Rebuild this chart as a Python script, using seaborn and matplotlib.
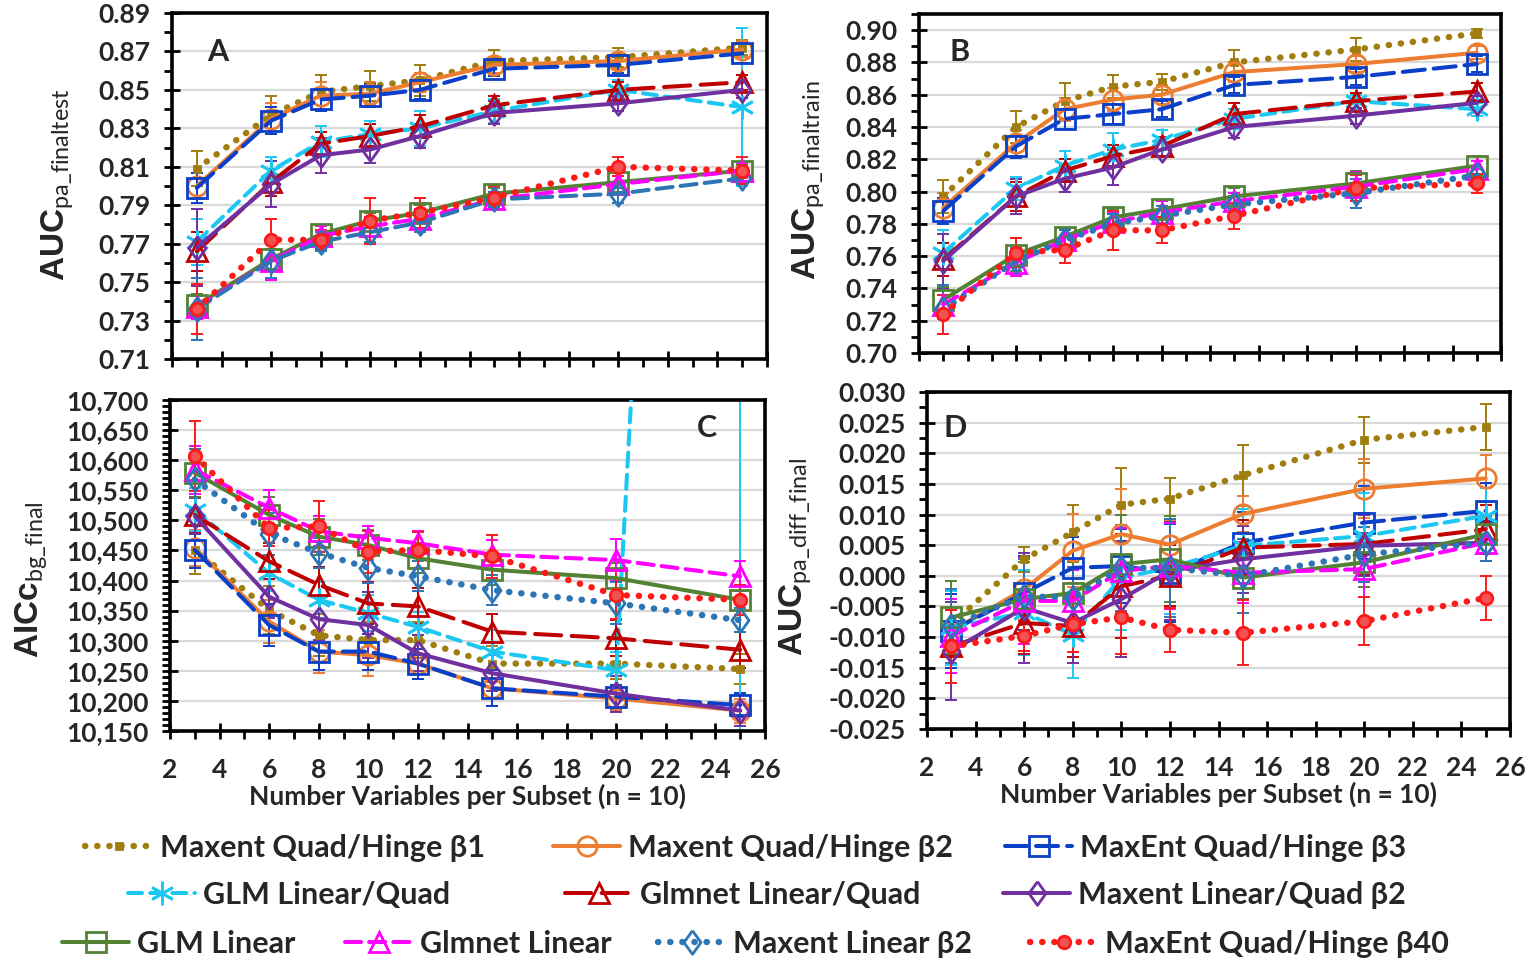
import numpy as np
import pandas as pd
import matplotlib
matplotlib.use("Agg")
import matplotlib.pyplot as plt
import seaborn as sns
from matplotlib.lines import Line2D
from matplotlib.ticker import MultipleLocator, FixedLocator, FuncFormatter

# ---------------------------------------------------------------- data
n_vars = [3, 6, 8, 10, 12, 15, 20, 25]

model_names = [
    "Maxent Quad/Hinge β1", "Maxent Quad/Hinge β2", "MaxEnt Quad/Hinge β3",
    "GLM Linear/Quad", "Glmnet Linear/Quad", "Maxent Linear/Quad β2",
    "GLM Linear", "Glmnet Linear", "Maxent Linear β2", "MaxEnt Quad/Hinge β40",
]

# AUC on the final test partition (mean, sd), one row per model
auc_test_mean = [
    [0.809, 0.837, 0.849, 0.852, 0.855, 0.865, 0.867, 0.872],
    [0.800, 0.835, 0.847, 0.848, 0.854, 0.863, 0.865, 0.871],
    [0.799, 0.834, 0.845, 0.847, 0.850, 0.861, 0.863, 0.869],
    [0.771, 0.808, 0.823, 0.827, 0.830, 0.839, 0.850, 0.841],
    [0.766, 0.802, 0.822, 0.826, 0.831, 0.842, 0.850, 0.854],
    [0.768, 0.801, 0.816, 0.819, 0.826, 0.838, 0.843, 0.850],
    [0.738, 0.762, 0.775, 0.782, 0.786, 0.796, 0.802, 0.808],
    [0.737, 0.761, 0.774, 0.779, 0.783, 0.793, 0.801, 0.808],
    [0.736, 0.761, 0.771, 0.776, 0.781, 0.793, 0.796, 0.804],
    [0.736, 0.772, 0.772, 0.782, 0.786, 0.794, 0.810, 0.808],
]
auc_test_sd = [
    [0.009, 0.010, 0.009, 0.008, 0.008, 0.006, 0.005, 0.004],
    [0.007, 0.008, 0.007, 0.006, 0.005, 0.004, 0.004, 0.004],
    [0.008, 0.007, 0.006, 0.006, 0.005, 0.004, 0.004, 0.005],
    [0.012, 0.007, 0.008, 0.007, 0.009, 0.006, 0.005, 0.041],
    [0.010, 0.007, 0.006, 0.006, 0.006, 0.005, 0.004, 0.004],
    [0.020, 0.012, 0.009, 0.007, 0.006, 0.006, 0.004, 0.004],
    [0.006, 0.005, 0.004, 0.004, 0.004, 0.003, 0.003, 0.003],
    [0.006, 0.010, 0.005, 0.005, 0.005, 0.004, 0.004, 0.004],
    [0.016, 0.009, 0.005, 0.005, 0.005, 0.004, 0.005, 0.003],
    [0.013, 0.011, 0.005, 0.012, 0.008, 0.006, 0.005, 0.007],
]

# AUC on the final training partition
auc_train_mean = [
    [0.797, 0.840, 0.856, 0.865, 0.868, 0.880, 0.888, 0.898],
    [0.790, 0.830, 0.851, 0.857, 0.860, 0.874, 0.879, 0.886],
    [0.788, 0.828, 0.845, 0.848, 0.851, 0.866, 0.871, 0.879],
    [0.762, 0.802, 0.816, 0.826, 0.832, 0.845, 0.856, 0.851],
    [0.758, 0.797, 0.813, 0.822, 0.828, 0.848, 0.856, 0.862],
    [0.757, 0.797, 0.808, 0.815, 0.826, 0.840, 0.847, 0.855],
    [0.733, 0.761, 0.772, 0.784, 0.789, 0.797, 0.805, 0.816],
    [0.730, 0.756, 0.770, 0.781, 0.787, 0.794, 0.803, 0.814],
    [0.727, 0.757, 0.770, 0.780, 0.785, 0.792, 0.799, 0.810],
    [0.724, 0.762, 0.764, 0.776, 0.776, 0.785, 0.802, 0.805],
]
auc_train_sd = [
    [0.010, 0.010, 0.011, 0.007, 0.005, 0.008, 0.007, 0.003],
    [0.009, 0.008, 0.007, 0.007, 0.006, 0.006, 0.005, 0.004],
    [0.008, 0.007, 0.006, 0.006, 0.005, 0.005, 0.005, 0.005],
    [0.014, 0.007, 0.009, 0.010, 0.006, 0.006, 0.004, 0.004],
    [0.010, 0.009, 0.007, 0.007, 0.006, 0.007, 0.005, 0.005],
    [0.017, 0.011, 0.008, 0.011, 0.004, 0.007, 0.005, 0.004],
    [0.008, 0.010, 0.005, 0.005, 0.005, 0.005, 0.008, 0.006],
    [0.009, 0.008, 0.006, 0.006, 0.007, 0.005, 0.009, 0.005],
    [0.015, 0.008, 0.006, 0.006, 0.006, 0.005, 0.009, 0.004],
    [0.012, 0.009, 0.008, 0.012, 0.008, 0.008, 0.008, 0.006],
]

# AICc on background points
aicc_mean = [
    [10451, 10351, 10309, 10301, 10301, 10262, 10262, 10253],
    [10454, 10332, 10282, 10276, 10262, 10221, 10204, 10184],
    [10451, 10326, 10282, 10282, 10262, 10221, 10207, 10193],
    [10518, 10412, 10368, 10346, 10323, 10282, 10251, 14000],
    [10509, 10432, 10393, 10362, 10357, 10315, 10304, 10285],
    [10507, 10373, 10336, 10326, 10279, 10246, 10212, 10184],
    [10579, 10509, 10473, 10459, 10437, 10418, 10404, 10368],
    [10584, 10521, 10482, 10471, 10462, 10443, 10434, 10407],
    [10568, 10478, 10446, 10421, 10407, 10384, 10362, 10334],
    [10607, 10487, 10490, 10448, 10451, 10440, 10376, 10368],
]
aicc_sd = [
    [40, 40, 35, 30, 30, 30, 25, 25],
    [30, 35, 35, 35, 25, 30, 20, 20],
    [30, 35, 30, 30, 25, 30, 20, 20],
    [35, 30, 30, 30, 25, 35, 30, 4000],
    [30, 30, 30, 35, 30, 30, 30, 30],
    [30, 35, 35, 55, 30, 30, 30, 25],
    [40, 30, 30, 25, 25, 25, 25, 25],
    [40, 30, 25, 20, 20, 25, 35, 25],
    [50, 35, 25, 25, 25, 25, 35, 20],
    [58, 30, 42, 35, 30, 35, 40, 25],
]

# Difference between training and test AUC
auc_diff_mean = [
    [-0.0079, 0.0027, 0.0071, 0.0116, 0.0126, 0.0164, 0.0222, 0.0243],
    [-0.0090, -0.0022, 0.0041, 0.0068, 0.0051, 0.0101, 0.0142, 0.0159],
    [-0.0090, -0.0028, 0.0013, 0.0016, 0.0005, 0.0054, 0.0087, 0.0106],
    [-0.0085, -0.0060, -0.0096, -0.0003, 0.0013, 0.0049, 0.0065, 0.0098],
    [-0.0115, -0.0077, -0.0082, -0.0017, 0.0000, 0.0046, 0.0052, 0.0076],
    [-0.0123, -0.0052, -0.0077, -0.0038, 0.0008, 0.0027, 0.0049, 0.0054],
    [-0.0068, -0.0038, -0.0028, 0.0019, 0.0027, -0.0003, 0.0022, 0.0068],
    [-0.0098, -0.0041, -0.0041, 0.0008, 0.0016, 0.0005, 0.0011, 0.0054],
    [-0.0082, -0.0033, -0.0036, 0.0013, 0.0013, 0.0000, 0.0035, 0.0054],
    [-0.0115, -0.0098, -0.0079, -0.0068, -0.0088, -0.0093, -0.0074, -0.0036],
]
auc_diff_sd = [
    [0.005, 0.002, 0.0045, 0.0060, 0.0033, 0.0050, 0.0038, 0.0037],
    [0.006, 0.005, 0.0060, 0.0074, 0.0040, 0.0030, 0.0048, 0.0038],
    [0.006, 0.006, 0.0050, 0.0060, 0.0080, 0.0050, 0.0060, 0.0045],
    [0.006, 0.007, 0.0070, 0.0085, 0.0075, 0.0060, 0.0070, 0.0045],
    [0.006, 0.005, 0.0050, 0.0085, 0.0050, 0.0045, 0.0050, 0.0040],
    [0.008, 0.009, 0.0065, 0.0095, 0.0080, 0.0055, 0.0050, 0.0030],
    [0.006, 0.006, 0.0050, 0.0080, 0.0070, 0.0035, 0.0040, 0.0030],
    [0.006, 0.007, 0.0050, 0.0070, 0.0070, 0.0050, 0.0045, 0.0030],
    [0.006, 0.006, 0.0050, 0.0070, 0.0080, 0.0060, 0.0045, 0.0030],
    [0.006, 0.0025, 0.0045, 0.0060, 0.0036, 0.0053, 0.0039, 0.0036],
]

# ---------------------------------------------------------------- styling
DPI = 100
W, H = 1530, 964

sns.set_theme(style="white")
plt.rcParams["font.family"] = ["Lato", "DejaVu Sans"]
plt.rcParams["mathtext.fontset"] = "custom"
plt.rcParams["mathtext.rm"] = "Lato"
plt.rcParams["mathtext.default"] = "rm"

dot = (0, (0.05, 1.85))
tall_diamond = [(0, 1), (0.72, 0), (0, -1), (-0.72, 0), (0, 1)]

model_colors = ["#A07D0F", "#ED7D31", "#0A3FC8", "#1CC8F2", "#C00000",
                "#7030A0", "#548235", "#FF00FF", "#2E75B6", "#FF1A1A"]
model_ls = [dot, "-", (0, (5.5, 2.2)), (0, (3.5, 2.0)), (0, (6.5, 2.6)),
            "-", "-", (0, (4.0, 2.0)), dot, dot]
model_lw = [4.6, 2.9, 2.9, 2.9, 2.9, 2.9, 2.9, 2.9, 4.6, 4.6]
model_markers = ["s", "o", "s", (6, 2, 0), "^", tall_diamond, "s", "^",
                 tall_diamond, "o"]
model_msize = [5, 14, 15, 17, 14, 17, 15, 14, 17, 9]
model_mfc = ["#A07D0F", "none", "none", "none", "none",
             "none", "none", "none", "none", "#F25252"]
# panel A draws the Maxent Linear β2 series dashed
panel_a_ls = list(model_ls)
panel_a_ls[8] = (0, (4.0, 2.0))
panel_a_lw = list(model_lw)
panel_a_lw[8] = 2.9

fig = plt.figure(figsize=(W / DPI, H / DPI), dpi=DPI)


def rect(l, t, r, b):
    return [l / W, 1 - b / H, (r - l) / W, (b - t) / H]


def draw_panel(ax, means, sds, styles, widths):
    for i in range(len(model_names)):
        c = model_colors[i]
        df = pd.DataFrame({"n": n_vars, "v": means[i]})
        ax.errorbar(n_vars, means[i], yerr=sds[i], fmt="none", ecolor=c,
                    elinewidth=1.4, capsize=4.0, capthick=1.4, zorder=2 + i * 0.1)
        sns.lineplot(data=df, x="n", y="v", ax=ax, color=c, linestyle=styles[i],
                     linewidth=widths[i], marker=model_markers[i],
                     markersize=model_msize[i], markerfacecolor=model_mfc[i],
                     markeredgecolor=c, markeredgewidth=2.0,
                     dash_capstyle="round", errorbar=None, legend=False,
                     sort=False, zorder=3 + i * 0.1)
    ax.set_xlabel("")
    ax.set_ylabel("")


def style_axes(ax, ylo, yhi, ticks, minor, fmt, show_x):
    ax.set_xlim(2, 26)
    ax.set_ylim(ylo, yhi)
    ax.xaxis.set_major_locator(MultipleLocator(2))
    ax.xaxis.set_minor_locator(MultipleLocator(1))
    ax.yaxis.set_major_locator(FixedLocator(ticks))
    ax.yaxis.set_minor_locator(MultipleLocator(minor))
    ax.yaxis.set_major_formatter(FuncFormatter(fmt))
    ax.grid(axis="y", which="major", color="#D9D9D9", linewidth=1.6, zorder=0)
    ax.grid(axis="x", visible=False)
    ax.set_axisbelow(True)
    for s in ax.spines.values():
        s.set_color("black")
        s.set_linewidth(2.6)
    ax.tick_params(axis="both", which="major", direction="inout", length=11,
                   width=2, color="black", labelsize=19, pad=10,
                   left=True, bottom=True)
    ax.tick_params(axis="both", which="minor", direction="out", length=6,
                   width=2, color="black", left=True, bottom=True)
    ax.tick_params(axis="x", which="major", pad=14)
    for lab in ax.get_yticklabels() + ax.get_xticklabels():
        lab.set_fontweight("bold")
    if not show_x:
        ax.tick_params(axis="x", labelbottom=False)
    else:
        ax.set_xlabel("Number Variables per Subset (n = 10)", fontsize=19,
                      fontweight="bold", labelpad=1)


def f2(v, _):
    return f"{v:.2f}"


def fcomma(v, _):
    return f"{v:,.0f}"


def f3(v, _):
    s = f"{v:.3f}"
    return "0.000" if s == "-0.000" else s


ax_a = fig.add_axes(rect(172, 13, 767, 359))
ax_b = fig.add_axes(rect(919, 14, 1501, 353))
ax_c = fig.add_axes(rect(170, 400, 765, 731))
ax_d = fig.add_axes(rect(927, 392, 1510, 729))

draw_panel(ax_a, auc_test_mean, auc_test_sd, panel_a_ls, panel_a_lw)
draw_panel(ax_b, auc_train_mean, auc_train_sd, model_ls, model_lw)
draw_panel(ax_c, aicc_mean, aicc_sd, model_ls, model_lw)
draw_panel(ax_d, auc_diff_mean, auc_diff_sd, model_ls, model_lw)

style_axes(ax_a, 0.71, 0.89, np.round(np.arange(0.71, 0.8901, 0.02), 2), 0.01, f2, False)
style_axes(ax_b, 0.70, 0.91, np.round(np.arange(0.70, 0.9001, 0.02), 2), 0.01, f2, False)
style_axes(ax_c, 10150, 10700, np.arange(10150, 10701, 50), 10, fcomma, True)
style_axes(ax_d, -0.025, 0.030, np.round(np.arange(-0.025, 0.0301, 0.005), 3), 0.0025, f3, True)

# panel letters
for letter, (px, py) in [("A", (218, 52)), ("B", (960, 52)),
                         ("C", (707, 428)), ("D", (955, 428))]:
    fig.text(px / W, 1 - py / H, letter, fontsize=22, fontweight="bold",
             ha="center", va="center")

# y-axis titles with subscripts
for txt, (px, py) in [(r"AUC$_{\mathrm{pa\_finaltest}}$", (57, 185)),
                      (r"AUC$_{\mathrm{pa\_finaltrain}}$", (808, 180)),
                      (r"AICc$_{\mathrm{bg\_final}}$", (31, 580)),
                      (r"AUC$_{\mathrm{pa\_diff\_final}}$", (795, 557))]:
    fig.text(px / W, 1 - py / H, txt, rotation=90, fontsize=24,
             fontweight="bold", family=["Liberation Sans", "DejaVu Sans"],
             ha="center", va="center")

# legend entries, one small legend per entry
legend_pos = [(85, 848), (553, 848), (1005, 848),
              (128, 895), (565, 895), (1003, 895),
              (62, 944), (345, 944), (658, 944), (1030, 944)]
for i, (lx, ly) in enumerate(legend_pos):
    c = model_colors[i]
    h = Line2D([0], [0], color=c, linestyle=model_ls[i], linewidth=model_lw[i],
               marker=model_markers[i], markersize=model_msize[i],
               markerfacecolor=model_mfc[i], markeredgecolor=c,
               markeredgewidth=2.0, dash_capstyle="round")
    fig.legend(handles=[h], labels=[model_names[i]], loc="center left",
               bbox_to_anchor=(lx / W, 1 - ly / H), frameon=False,
               borderpad=0, borderaxespad=0, handlelength=2.2,
               handletextpad=0.25, prop={"size": 22, "weight": "bold"})

fig.savefig("out.png", dpi=DPI)
